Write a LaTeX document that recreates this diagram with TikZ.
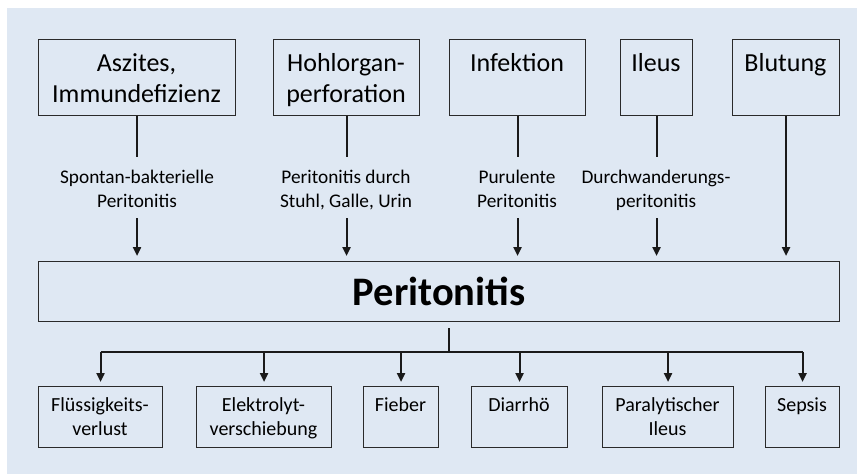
\documentclass[tikz,border=0pt]{standalone}
\usepackage{fontspec}
\setmainfont{Carlito}
\usetikzlibrary{arrows.meta}
\definecolor{bgblue}{HTML}{DFE8F3}
\definecolor{boxline}{HTML}{2A2A2A}
\definecolor{conline}{HTML}{1A1A1A}
\begin{document}
\begin{tikzpicture}[x=1pt,y=-1pt,
  box/.style={draw=boxline, line width=1.1pt, inner sep=0pt, anchor=north west},
  toptext/.style={anchor=base, align=center, inner sep=0pt, font=\fontsize{26}{30.5}\selectfont},
  labtext/.style={anchor=base, align=center, inner sep=0pt, font=\fontsize{19.3}{24}\selectfont},
  bottext/.style={anchor=base, align=center, inner sep=0pt, font=\fontsize{20}{23.5}\selectfont},
  conn/.style={draw=conline, line width=2pt},
  arr/.style={conn, -{Triangle[width=8pt,length=9pt]}},
]
\useasboundingbox (0,0) rectangle (857,474);
\fill[bgblue] (7,8) rectangle (857,474);

% top boxes
\node[box, minimum width=197pt, minimum height=76pt] (t1) at (38,39) {};
\node[box, minimum width=146pt, minimum height=76pt] (t2) at (273,39) {};
\node[box, minimum width=136pt, minimum height=76pt] (t3) at (449,39) {};
\node[box, minimum width=72pt,  minimum height=76pt] (t4) at (620,39) {};
\node[box, minimum width=107pt, minimum height=76pt] (t5) at (732,39) {};

% (anchor=base is the baseline of the last line)
\node[toptext] (tt1) at (136.5,102) {Aszites,\\Immundefizienz};
\node[toptext] (tt2) at (346,102) {Hohlorgan-\\perforation};
\node[toptext] (tt3) at (517,71.5) {Infektion};
\node[toptext] (tt4) at (656,71.5) {Ileus};
\node[toptext] (tt5) at (785.5,71.5) {Blutung};

% labels
\node[labtext] (l1) at (137,207) {Spontan-bakterielle\\Peritonitis};
\node[labtext] (l2) at (346,207) {Peritonitis durch\\Stuhl, Galle, Urin};
\node[labtext] (l3) at (517,207) {Purulente\\Peritonitis};
\node[labtext] (l4) at (656,207) {Durchwanderungs-\\peritonitis};

% central box
\node[box, minimum width=801pt, minimum height=60pt, font=\fontsize{40.5}{46}\selectfont\bfseries] (P) at (38,261) {Peritonitis};

% bottom boxes
\node[box, minimum width=124pt, minimum height=61pt] (b1) at (38,386) {};
\node[box, minimum width=135pt, minimum height=61pt] (b2) at (196,386) {};
\node[box, minimum width=75pt,  minimum height=61pt] (b3) at (363,386) {};
\node[box, minimum width=96pt,  minimum height=61pt] (b4) at (471,386) {};
\node[box, minimum width=131pt, minimum height=61pt] (b5) at (602,386) {};
\node[box, minimum width=74pt,  minimum height=61pt] (b6) at (765,386) {};

\node[bottext] (bt1) at (100,435) {Flüssigkeits-\\verlust};
\node[bottext] (bt2) at (263.5,435) {Elektrolyt-\\verschiebung};
\node[bottext] (bt3) at (400.5,411.5) {Fieber};
\node[bottext] (bt4) at (519,411.5) {Diarrhö};
\node[bottext] (bt5) at (667.5,435) {Paralytischer\\Ileus};
\node[bottext] (bt6) at (802,411.5) {Sepsis};

% connector rows
\coordinate (r1) at (0,157);
\coordinate (r2) at (0,218);
\coordinate (hub) at (449,352);

\foreach \i in {1,2,3,4}{
  \draw[conn] (t\i.south) -- (t\i.south |- r1);
  \draw[arr, shorten >=5pt] (t\i.south |- r2) -- (P.north -| t\i.south);
}
\draw[arr, shorten >=5pt] (t5.south) -- (P.north -| t5.south);

% bottom tree
\draw[conn, shorten <=6pt] (P.south -| hub) -- (hub);
\draw[conn] (b1.north |- hub) -- (b6.north |- hub);
\foreach \i in {1,...,6}{
  \draw[arr, shorten >=4pt] (b\i.north |- hub) -- (b\i.north);
}
\end{tikzpicture}
\end{document}
